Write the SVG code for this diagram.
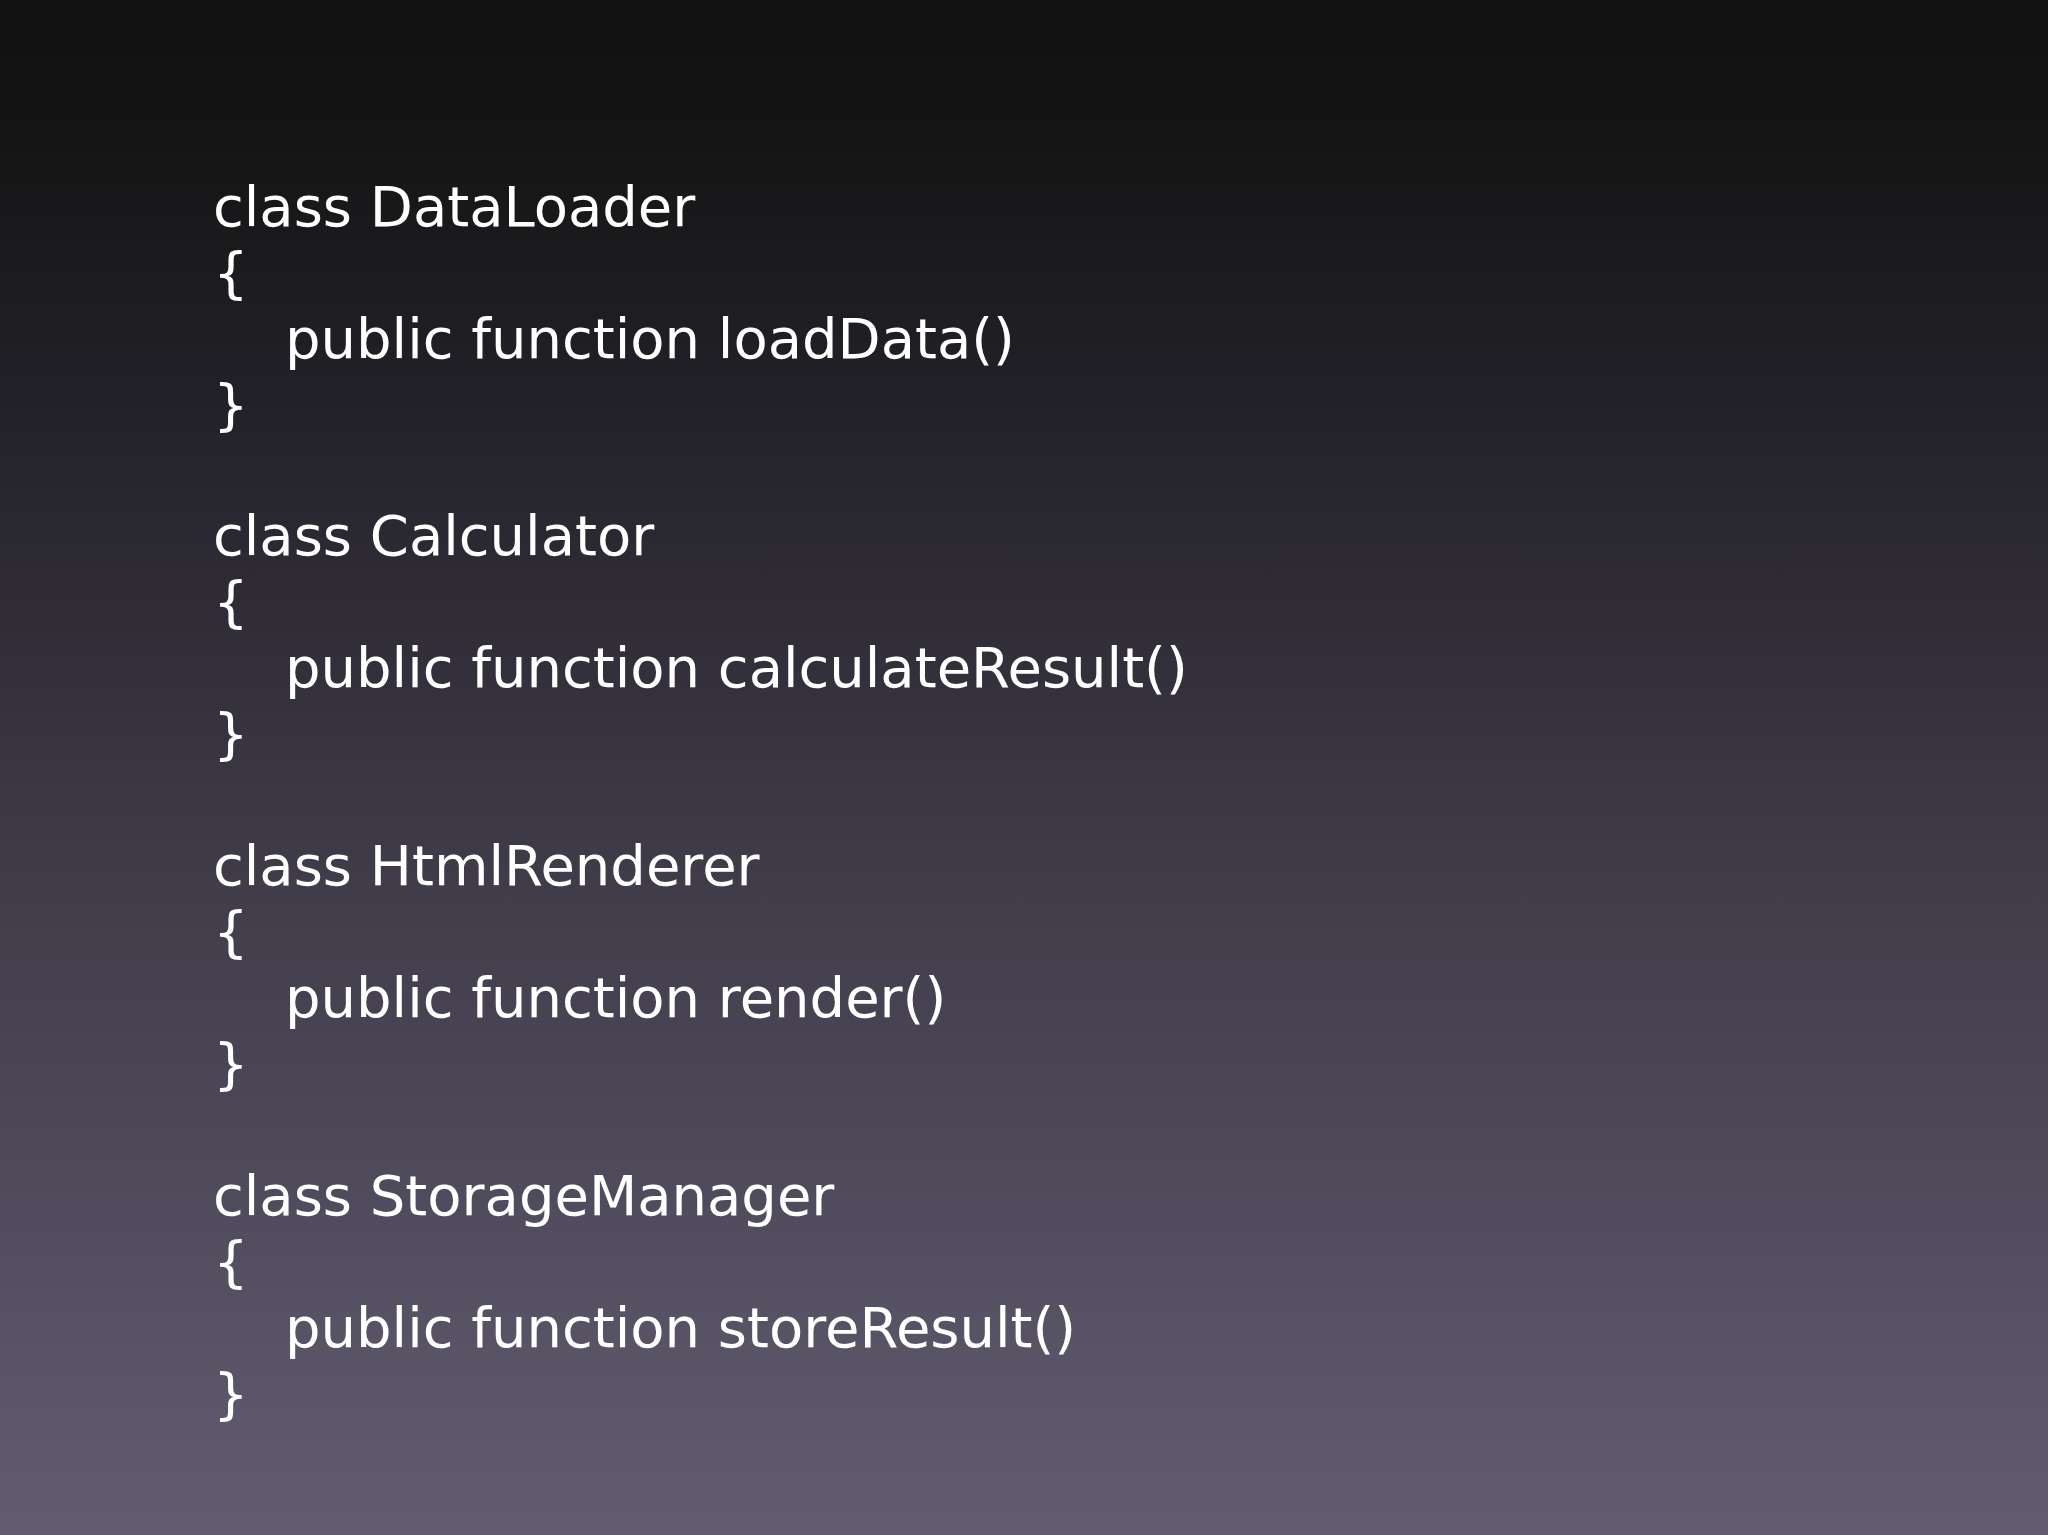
<svg xmlns="http://www.w3.org/2000/svg" width="2048" height="1535" viewBox="0 0 2048 1535">
<defs>
<linearGradient id="bg" x1="0" y1="0" x2="0" y2="1">
<stop offset="0" stop-color="#111111"/>
<stop offset="0.08" stop-color="#141414"/>
<stop offset="0.3" stop-color="#26242c"/>
<stop offset="0.6" stop-color="#433e4c"/>
<stop offset="1" stop-color="#615c70"/>
</linearGradient>
<style>
text{font-family:"DejaVu Sans",sans-serif;font-size:56px;fill:#ffffff}
</style>
</defs>
<rect width="2048" height="1535" fill="url(#bg)"/>
<g id="code">
<text x="213" y="226">class DataLoader</text>
<text x="213" y="292">{</text>
<text x="285" y="358">public function loadData()</text>
<text x="213" y="424">}</text>
<text x="213" y="555">class Calculator</text>
<text x="213" y="621">{</text>
<text x="285" y="687">public function calculateResult()</text>
<text x="213" y="753">}</text>
<text x="213" y="885">class HtmlRenderer</text>
<text x="213" y="951">{</text>
<text x="285" y="1017">public function render()</text>
<text x="213" y="1083">}</text>
<text x="213" y="1215">class StorageManager</text>
<text x="213" y="1281">{</text>
<text x="285" y="1347">public function storeResult()</text>
<text x="213" y="1413">}</text>
</g>
</svg>
